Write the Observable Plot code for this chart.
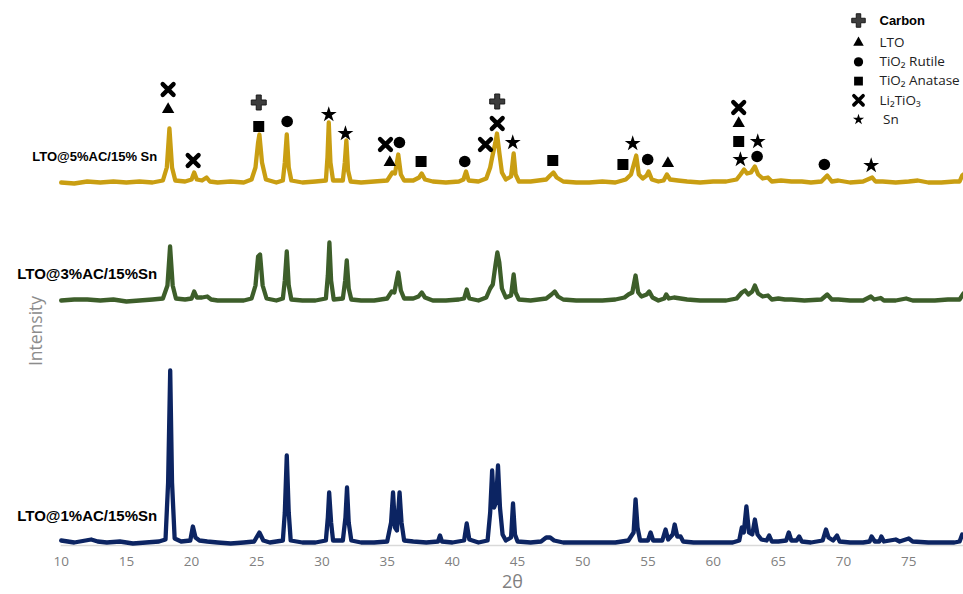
<!DOCTYPE html>
<html>
<head>
<meta charset="utf-8">
<script src="https://cdn.jsdelivr.net/npm/d3@7"></script>
<script src="https://cdn.jsdelivr.net/npm/@observablehq/plot@0.6"></script>
<style>
  html, body { margin: 0; padding: 0; background: #fff; }
  #chart { width: 963px; height: 594px; }
</style>
</head>
<body>
<div id="chart"></div>
<script>
// ---- Data (2θ, intensity in a.u. relative to each pattern's own baseline) ----
const seriesNames = ["LTO@1%AC/15%Sn", "LTO@3%AC/15%Sn", "LTO@5%AC/15% Sn"];
const seriesOffsets = [3, 245, 363];

const lto1 = [
  [10,2],[11,0],[12.3,3],[12.8,1],[13.5,0],[14.5,1],[15.5,-1],[16.5,0],[17.5,1],[18.0,3],
  [18.2,60],[18.36,172],[18.5,60],[18.7,4],[19.2,1],[19.9,2],[20.1,16],[20.3,5],[20.6,2],
  [21.2,1],[22,0],[23,-1],[24,0],[24.8,1],[25.2,10],[25.5,2],[26,0],[27.0,2],[27.15,30],
  [27.3,87],[27.45,30],[27.6,2],[28.5,0],[29.5,0],[30.3,2],[30.45,25],[30.55,50],[30.7,20],
  [30.85,2],[31.6,2],[31.8,25],[31.92,55],[32.05,20],[32.25,2],[33,0],[34,0],[35.0,1],
  [35.3,20],[35.45,50],[35.6,15],[35.75,12],[35.95,50],[36.1,20],[36.3,2],[37,1],[38,0],
  [38.9,1],[39.05,7],[39.2,1],[40,0],[40.9,2],[41.1,19],[41.3,3],[42,0],[42.7,2],[42.9,30],
  [43.05,72],[43.2,35],[43.35,40],[43.5,77],[43.65,35],[43.85,8],[44.1,2],[44.5,5],
  [44.65,39],[44.8,8],[45.0,1],[46,0],[46.8,1],[47.2,5],[47.5,5],[47.8,2],[48.5,0],
  [49.5,0],[50.5,0],[51.5,0],[52.5,0],[53.5,2],[53.9,10],[54.05,43],[54.2,15],[54.4,2],
  [55.0,2],[55.2,10],[55.4,2],[56.1,2],[56.35,13],[56.55,3],[56.9,8],[57.05,18],[57.25,6],
  [57.5,6],[57.7,1],[58.5,0],[59.5,0],[60.5,0],[61.5,0],[62.0,2],[62.2,15],[62.35,10],
  [62.55,36],[62.75,10],[63.0,8],[63.2,23],[63.4,8],[63.7,3],[64.1,2],[64.3,7],[64.5,1],
  [65.0,1],[65.6,2],[65.8,10],[66.0,2],[66.4,2],[66.6,6],[66.8,1],[67.5,0],[68.4,2],
  [68.65,13],[68.85,5],[69.2,2],[69.5,7],[69.7,1],[70.5,0],[71.5,0],[72.0,1],[72.15,6],
  [72.4,1],[72.75,1],[72.9,6],[73.1,1],[74,3],[74.3,1],[75,4],[75.3,1],[76.5,0],[77.5,0],
  [78.5,0],[78.9,1],[79.1,8],[79.2,6]
];

const lto3 = [
  [10,0],[11,1],[12,1],[13,0],[14,1],[15,-1],[16,0],[17,1],[17.8,2],[18.15,15],[18.35,54],
  [18.55,15],[18.8,2],[19.5,1],[20.0,2],[20.2,9],[20.4,3],[20.8,3],[21.2,4],[21.5,1],[22,0],
  [23,0],[24,0],[24.6,2],[24.9,15],[25.1,44],[25.25,46],[25.45,15],[25.75,2],[26.5,0],
  [27.0,2],[27.15,20],[27.3,49],[27.45,15],[27.65,1],[28.5,0],[29.5,0],[30.3,2],[30.45,25],
  [30.57,58],[30.7,20],[30.9,1],[31.6,2],[31.78,20],[31.9,40],[32.05,12],[32.25,1],[33,0],
  [34,0],[35.0,2],[35.35,9],[35.55,8],[35.85,28],[36.05,10],[36.3,2],[37,2],[37.4,4],
  [37.65,8],[37.9,3],[38.5,0],[39.5,0],[40.5,1],[40.9,2],[41.1,11],[41.3,2],[42,0],[42.6,3],
  [42.9,12],[43.1,16],[43.3,35],[43.45,48],[43.6,38],[43.8,12],[44.1,3],[44.5,5],[44.7,26],
  [44.85,8],[45.1,1],[46,0],[47.2,2],[47.6,6],[47.85,9],[48.1,4],[48.5,1],[49.5,0],[50.5,0],
  [51.5,0],[52.5,1],[53.2,3],[53.5,6],[53.8,8],[54.05,25],[54.25,8],[54.5,4],[54.9,6],
  [55.1,9],[55.35,3],[55.8,0],[56.25,2],[56.4,6],[56.6,2],[57.0,3],[57.5,2],[58,1],[59,0],
  [60,0],[61,0],[61.8,2],[62.2,8],[62.45,10],[62.7,6],[63.0,9],[63.2,15],[63.45,7],[63.8,4],
  [64.2,5],[64.5,1],[65,2],[65.5,1],[66,1],[67,0],[68.3,1],[68.75,6],[69.1,1],[69.6,1],
  [70.5,0],[71.5,0],[72.1,4],[72.35,1],[72.85,2.5],[73.1,0],[74,0],[74.8,2],[75.3,0],[76,0],
  [77,0],[78,1],[78.9,1],[79.1,5],[79.2,7]
];

const lto5 = [
  [10,0],[11,-1],[12,1],[13,0],[14,1],[15,0],[16,1],[17,0],[17.8,2],[18.1,15],[18.3,54],
  [18.5,15],[18.75,2],[19.5,1],[20.0,3],[20.2,10],[20.4,3],[20.8,2],[21.15,5],[21.4,1],
  [22,0],[23,1],[24,0],[24.6,3],[24.9,15],[25.1,40],[25.2,48],[25.4,20],[25.7,3],[26.5,0],
  [27.0,2],[27.15,20],[27.3,48],[27.45,15],[27.65,2],[28.5,0],[29.5,1],[30.3,2],[30.42,25],
  [30.52,60],[30.65,20],[30.85,2],[31.6,2],[31.75,20],[31.87,42],[32.0,12],[32.2,1],[33,0],
  [34,1],[35.0,2],[35.4,10],[35.6,9],[35.85,28],[36.05,8],[36.3,2],[37,2],[37.45,5],
  [37.65,9],[37.9,3],[38.5,1],[39.5,0],[40.5,1],[40.85,3],[41.05,11],[41.25,2],[42,1],
  [42.6,4],[42.9,15],[43.05,25],[43.3,40],[43.42,49],[43.6,30],[43.8,10],[44.1,3],[44.5,6],
  [44.7,29],[44.85,8],[45.1,1],[46,1],[47.2,3],[47.5,7],[47.75,10],[48.0,5],[48.5,1],
  [49.5,0],[50.5,0],[51.5,1],[52.5,0],[53.3,3],[53.7,8],[54.1,27],[54.3,8],[54.6,4],
  [54.9,7],[55.05,11],[55.3,3],[55.8,1],[56.2,2],[56.45,8],[56.7,3],[57.3,2],[58,1],[59,0],
  [60,1],[61,1],[61.8,3],[62.1,8],[62.37,13],[62.6,9],[62.9,10],[63.2,16],[63.45,8],
  [63.8,4],[64.2,5],[64.5,1],[65.2,2],[66,1],[66.8,1],[67.5,0],[68.3,1],[68.75,7],[69.1,1],
  [69.6,2],[70.5,0],[71.5,1],[72.2,5],[72.45,1],[73,1],[74,0],[75,1],[75.7,2],[76.5,0],
  [77.5,0],[78.5,1],[78.9,1],[79.1,7],[79.2,8]
];

const xTicks = [10, 15, 20, 25, 30, 35, 40, 45, 50, 55, 60, 65, 70, 75];

// Phase identification markers on the LTO@5%AC/15% Sn pattern
const phases = ["Carbon", "LTO", "TiO2 Rutile", "TiO2 Anatase", "Li2TiO3", "Sn"];
const phaseLabels = ["Carbon", "LTO", "TiO\u2082 Rutile", "TiO\u2082 Anatase", "Li\u2082TiO\u2083", " Sn"];
const markerPhase = ["Li2TiO3","LTO","Li2TiO3","Carbon","TiO2 Anatase","TiO2 Rutile","Sn","Sn",
  "Li2TiO3","TiO2 Rutile","LTO","TiO2 Anatase","TiO2 Rutile","Li2TiO3","Carbon","Li2TiO3","Sn",
  "TiO2 Anatase","TiO2 Anatase","Sn","TiO2 Rutile","LTO","Li2TiO3","LTO","TiO2 Anatase","Sn","Sn",
  "TiO2 Rutile","TiO2 Rutile","Sn"];
const markerTheta = [18.2,18.2,20.12,25.15,25.15,27.33,30.52,31.8,34.87,35.94,35.2,37.6,40.95,
  42.54,43.44,43.44,44.63,47.7,53.08,53.83,54.98,56.53,61.96,61.96,61.96,62.09,63.42,63.37,
  68.53,72.12];
const markerLevel = [456,436,385,443,419,424,431,412,401,403,383,384,384,401,444,422,403,385,
  381,402,386,382,438,422,404,386,404,389,381,380];

// ---- Build tables ----
const patterns = [lto1, lto3, lto5];
const seriesColors = ["#0c2462", "#3d5e2a", "#c99e12"];
const lines = patterns.flatMap((pts, i) =>
  pts.map(([t, v]) => ({series: seriesNames[i], theta: t, value: v + seriesOffsets[i]})));
const labels = seriesNames.map((s, i) => ({series: s, offset: seriesOffsets[i], big: i < 2}));
const markers = markerPhase.map((p, i) => ({phase: p, theta: markerTheta[i], level: markerLevel[i]}));

const symStyle = {
  "Carbon":       {symbol: "cross",    r: 6.3, fill: "#3d3d3d", stroke: "#1a1a1a", strokeWidth: 1, strokeLinejoin: "round"},
  "LTO":          {symbol: "triangle", r: 4.6, fill: "#000"},
  "TiO2 Rutile":  {symbol: "circle",   r: 5.8, fill: "#000"},
  "TiO2 Anatase": {symbol: "square",   r: 6.2, fill: "#000"},
  "Li2TiO3":      {symbol: "times",    r: 5.0, fill: "none", stroke: "#000", strokeWidth: 4.4, strokeLinecap: "round"},
  "Sn":           {symbol: "star",     r: 5.0, fill: "#000"}
};
const legendScale = {
  "Carbon": 0.9, "LTO": 0.85, "TiO2 Rutile": 0.8, "TiO2 Anatase": 0.8, "Li2TiO3": 0.85, "Sn": 0.7
};

const marks = [];
// axis base line
marks.push(Plot.ruleY([0], {stroke: "#d9d9d9", strokeWidth: 1.5}));
marks.push(Plot.axisX({ticks: xTicks, tickSize: 0, tickPadding: 11, fontSize: 13.5,
  color: "#808080", label: null, tickFormat: d => d}));
// patterns
seriesNames.forEach((s, i) => {
  marks.push(Plot.line(lines.filter(d => d.series === s), {
    x: "theta", y: "value", stroke: seriesColors[i], strokeWidth: 4.3,
    strokeLinejoin: "round", strokeLinecap: "round", curve: "linear"
  }));
});
// phase markers
phases.forEach(p => {
  const st = symStyle[p];
  marks.push(Plot.dot(markers.filter(d => d.phase === p), {
    x: "theta", y: "level", ...st
  }));
});
// pattern labels
marks.push(Plot.text(labels, {
  frameAnchor: "left", y: "offset", text: "series", dx: 96, dy: -26,
  textAnchor: "end", lineAnchor: "middle", fontWeight: "bold",
  fontSize: d => d.big ? 15 : 13, fill: "#000", fontFamily: "Liberation Sans, Arial, sans-serif"
}));
// axis titles
marks.push(Plot.text(["2\u03b8"], {
  frameAnchor: "bottom", text: d => d, dy: 37, lineAnchor: "middle",
  fontSize: 18, fill: "#808080"
}));
marks.push(Plot.text(["Intensity"], {
  frameAnchor: "left", text: d => d, dx: -25, dy: 58, rotate: -90,
  lineAnchor: "middle", textAnchor: "middle", fontSize: 17.5, fill: "#8c8c8c"
}));
// legend
phases.forEach((p, i) => {
  const st = symStyle[p];
  const rowY = i === 0 ? 20 : 23 + i * 19.2;
  marks.push(Plot.dot([p], {
    frameAnchor: "top-right", dx: -105, dy: rowY, ...st, r: st.r * legendScale[p],
    strokeWidth: p === "Li2TiO3" ? 3.6 : st.strokeWidth
  }));
  marks.push(Plot.text([phaseLabels[i]], {
    frameAnchor: "top-right", dx: -84, dy: rowY, text: d => d,
    textAnchor: "start", lineAnchor: "middle",
    fontSize: p === "Carbon" ? 13 : 13.5,
    fontWeight: p === "Carbon" ? "bold" : "normal",
    fontFamily: p === "Carbon" ? "Liberation Sans, Arial, sans-serif" : "Open Sans, sans-serif",
    fill: p === "Carbon" ? "#000" : "#222"
  }));
});

const chart = Plot.plot({
  width: 963,
  height: 594,
  marginLeft: 60.7,
  marginRight: 0,
  marginTop: 0,
  marginBottom: 49,
  style: {fontFamily: "Open Sans, sans-serif", background: "#fff", overflow: "visible"},
  x: {domain: [10, 79.2]},
  y: {domain: [0, 545], axis: null},
  marks
});
document.getElementById("chart").appendChild(chart);
</script>
</body>
</html>
